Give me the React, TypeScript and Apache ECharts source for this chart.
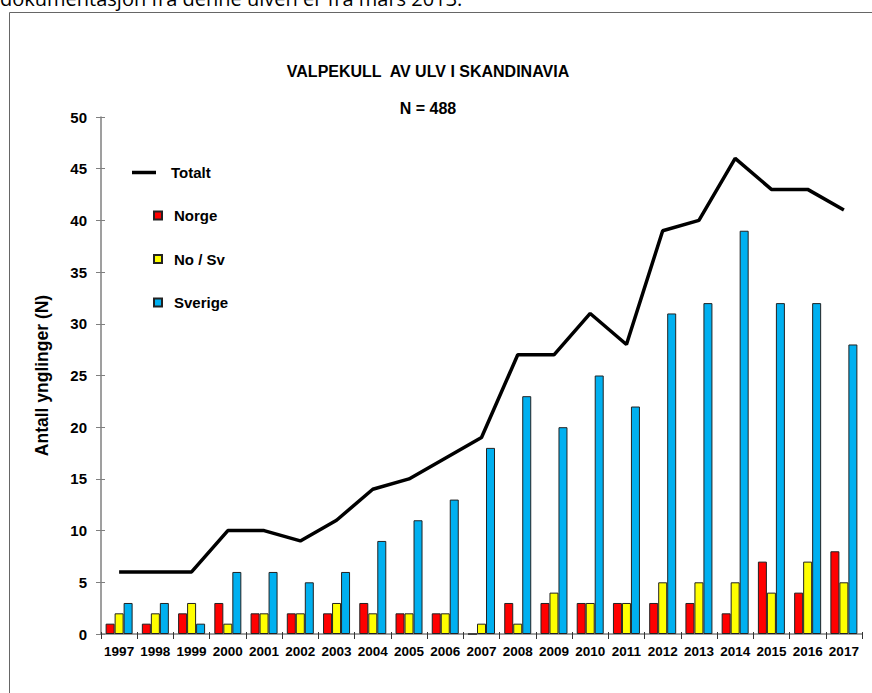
import React, { useEffect, useRef } from "react";
import * as echarts from "echarts";

const years = ["1997","1998","1999","2000","2001","2002","2003","2004","2005","2006","2007","2008","2009","2010","2011","2012","2013","2014","2015","2016","2017"];
const totalt = [6,6,6,10,10,9,11,14,15,17,19,27,27,31,28,39,40,46,43,43,41];
const norge = [1,1,2,3,2,2,2,3,2,2,0,3,3,3,3,3,3,2,7,4,8];
const noSv = [2,2,3,1,2,2,3,2,2,2,1,1,4,3,3,5,5,5,4,7,5];
const sverige = [3,3,1,6,6,5,6,9,11,13,18,23,20,25,22,31,32,39,32,32,28];

const FONT = "Liberation Sans, Arial, sans-serif";
const AXIS_COLOR = "#7f7f7f";

export default function App() {
  const ref = useRef<HTMLDivElement>(null);
  useEffect(() => {
    if (!ref.current) return;
    const chart = echarts.init(ref.current, null, { renderer: "svg" });
    const barStyle = (color: string) => ({ color, borderColor: "#222", borderWidth: 1 });
    const legendText = { fontFamily: FONT, fontWeight: "bold", fontSize: 15, color: "#000" };
    chart.setOption({
      animation: false,
      backgroundColor: "#fff",
      textStyle: { fontFamily: FONT },
      title: [
        { text: "VALPEKULL  AV ULV I SKANDINAVIA", left: 423, top: 58, textAlign: "center",
          textStyle: { fontFamily: FONT, fontWeight: "bold", fontSize: 16, color: "#000" } },
        { text: "N = 488", left: 423, top: 95, textAlign: "center",
          textStyle: { fontFamily: FONT, fontWeight: "bold", fontSize: 16, color: "#000" } },
      ],
      graphic: [
        { type: "rect", shape: { x: 9.5, y: 12.5, width: 900, height: 800 }, style: { fill: "none", stroke: "#666", lineWidth: 1 }, z: -1 },
        { type: "text", x: 0, y: 8, style: { text: "dokumentasjon fra denne ulven er fra mars 2013.", fontFamily: "Open Sans, sans-serif", fontSize: 20, fill: "#000", textVerticalAlign: "bottom" } },
      ],
      legend: [
        { data: [{ name: "Totalt", icon: "rect" }], orient: "vertical", left: 132, top: 165, padding: 0,
          itemWidth: 24, itemHeight: 3.5, textStyle: { ...legendText, padding: [0, 0, 0, 10] } },
        { data: [{ name: "Norge", icon: "rect" }, { name: "No / Sv", icon: "rect" }, { name: "Sverige", icon: "rect" }],
          orient: "vertical", left: 153, top: 208, padding: 0, itemGap: 28.5,
          itemWidth: 8, itemHeight: 8, textStyle: { ...legendText, padding: [0, 0, 0, 7] } },
      ],
      grid: { left: 101, right: 10, top: 117, bottom: 59 },
      xAxis: [
        { type: "category", data: years,
          axisLine: { lineStyle: { color: AXIS_COLOR, width: 1.5 } },
          axisTick: { show: true, length: 5, lineStyle: { color: "#333" } },
          axisLabel: { interval: 0, fontFamily: FONT, fontWeight: "bold", fontSize: 13.5, color: "#000", margin: 10 } },
        { type: "category", data: years, position: "bottom",
          axisLine: { show: false }, axisLabel: { show: false },
          axisTick: { show: true, inside: true, length: 2, lineStyle: { color: "#333" } } },
      ],
      yAxis: [
        { type: "value", min: 0, max: 50, interval: 5,
          name: "Antall ynglinger (N)", nameLocation: "middle", nameGap: 50,
          nameTextStyle: { fontFamily: FONT, fontWeight: "bold", fontSize: 17.5, color: "#000" },
          axisLine: { show: true, lineStyle: { color: AXIS_COLOR, width: 1.5 } },
          axisTick: { show: true, length: 5, lineStyle: { color: AXIS_COLOR } },
          splitLine: { show: false },
          axisLabel: { fontFamily: FONT, fontWeight: "bold", fontSize: 15, color: "#000", margin: 14 } },
        { type: "value", min: 0, max: 50, interval: 5, position: "left", offset: 0,
          axisLine: { show: false }, axisLabel: { show: false }, splitLine: { show: false },
          axisTick: { show: true, inside: true, length: 4, lineStyle: { color: AXIS_COLOR } } },
      ],
      series: [
        { name: "Norge", type: "bar", data: norge, barWidth: 9, barGap: "0%", itemStyle: barStyle("#ff0000") },
        { name: "No / Sv", type: "bar", data: noSv, barWidth: 9, barGap: "0%", itemStyle: barStyle("#ffff00") },
        { name: "Sverige", type: "bar", data: sverige, barWidth: 9, barGap: "0%", itemStyle: barStyle("#00b0f0") },
        { name: "Totalt", type: "line", data: totalt, symbol: "none", z: 5,
          lineStyle: { color: "#000", width: 3.5 }, itemStyle: { color: "#000" } },
      ],
    });
    return () => chart.dispose();
  }, []);
  return <div ref={ref} style={{ position: "fixed", left: 0, top: 0, width: 872, height: 693 }} />;
}
